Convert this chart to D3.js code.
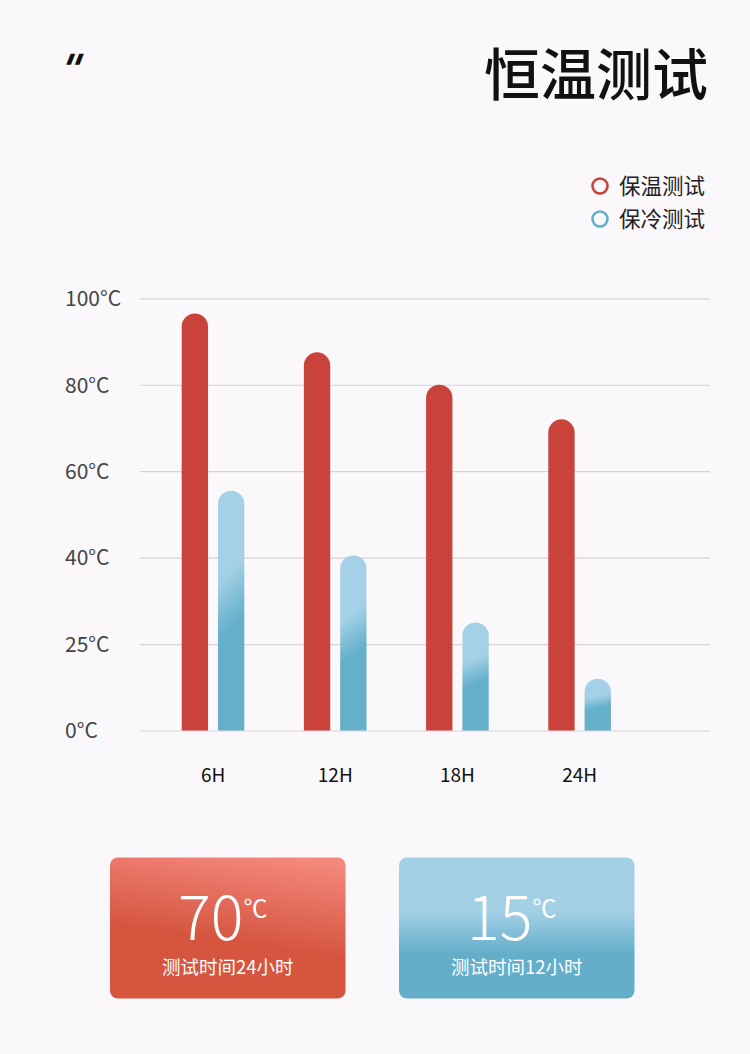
<!DOCTYPE html>
<html>
<head>
<meta charset="utf-8">
<script src="https://cdn.jsdelivr.net/npm/d3@7"></script>
<style>
  body { margin: 0; background: #faf8fa; }
  svg { display: block; }
  text { font-family: "Noto Sans CJK SC", "Noto Sans", sans-serif; }
</style>
</head>
<body>
<script>
// data
var hours = ["6H", "12H", "18H", "24H"];
var seriesKeys = ["warm", "cold"];
var seriesNames = ["保温测试", "保冷测试"];
var warmVals = [96.5, 87.5, 80, 72];
var coldVals = [55.5, 40.5, 25, 12];
var yTicks = [0, 20, 40, 60, 80, 100];
var yTickLabels = ["0°C", "25°C", "40°C", "60°C", "80°C", "100°C"];
var cardTemps = ["70", "15"];
var cardNotes = ["测试时间24小时", "测试时间12小时"];

var W = 750, H = 1054;
var red = "#c9433a", blue = "#63afca";

var svg = d3.select("body").append("svg")
    .attr("width", W)
    .attr("height", H);

svg.append("rect").attr("width", W).attr("height", H).attr("fill", "#faf8fa");

var defs = svg.append("defs");

var gBlue = defs.append("linearGradient").attr("id", "barBlue")
    .attr("x1", 0).attr("y1", 0.38).attr("x2", 0.025).attr("y2", 0.62);
gBlue.append("stop").attr("offset", 0).attr("stop-color", "#a4d1e7");
gBlue.append("stop").attr("offset", 1).attr("stop-color", "#64afca");

var gCardR = defs.append("linearGradient").attr("id", "cardRed")
    .attr("x1", 0.75).attr("y1", 0).attr("x2", 0.6).attr("y2", 0.62);
gCardR.append("stop").attr("offset", 0).attr("stop-color", "#f5877c");
gCardR.append("stop").attr("offset", 1).attr("stop-color", "#d5553f");

var gCardB = defs.append("linearGradient").attr("id", "cardBlue")
    .attr("x1", 0).attr("y1", 0.38).attr("x2", 0).attr("y2", 0.68);
gCardB.append("stop").attr("offset", 0).attr("stop-color", "#a4d0e6");
gCardB.append("stop").attr("offset", 1).attr("stop-color", "#64aec9");

// header
svg.append("text").text('"')
    .attr("transform", "translate(55,83) skewX(-22)")
    .attr("font-size", 40).attr("font-weight", "bold")
    .attr("fill", "#111")
    .style("font-family", "'DejaVu Sans', sans-serif");

svg.append("text").text("恒温测试")
    .attr("x", 708).attr("y", 95)
    .attr("text-anchor", "end")
    .attr("font-size", 56).attr("font-weight", 500)
    .attr("fill", "#111");

// legend
var leg = svg.append("g");
seriesNames.forEach(function(n, i){
    var gy = 186 + i * 33;
    leg.append("circle").attr("cx", 600).attr("cy", gy).attr("r", 7.5)
        .attr("fill", "none").attr("stroke", i == 0 ? red : blue).attr("stroke-width", 2.6);
    leg.append("text").text(n).attr("x", 619).attr("y", gy).attr("dy", "0.36em")
        .attr("font-size", 21.5).attr("fill", "#222");
});

// scales
var y = d3.scaleLinear().domain([0, 100]).range([730.5, 298.3]);
var x0 = d3.scaleBand().domain(hours).range([152, 152 + 4 * 122.2]);
var x1 = d3.scaleBand().domain(seriesKeys).range([29.7, 92.3]).paddingInner(0.275);

// grid + y labels
var yAxis = d3.axisLeft(y).tickValues(yTicks)
    .tickSize(-570)
    .tickFormat(function(d, i){ return yTickLabels[i]; });

var ga = svg.append("g").attr("transform", "translate(140,0)").call(yAxis);
ga.select(".domain").remove();
ga.selectAll(".tick line").attr("stroke", "#d6d2d6").attr("stroke-width", 1.2);
ga.selectAll(".tick text")
    .attr("x", -75).attr("text-anchor", "start").attr("dy", "0.35em")
    .attr("font-size", 21).attr("fill", "#444")
    .style("font-family", "'Noto Sans CJK SC', sans-serif");

// bars
function capBar(x, w, yTop, yBase){
    var r = w / 2;
    return "M" + x + "," + yBase + "V" + (yTop + r) +
        "A" + r + "," + r + " 0 0 1 " + (x + w) + "," + (yTop + r) +
        "V" + yBase + "Z";
}

var rows = hours.map(function(h, i){
    return {h: h, warm: warmVals[i], cold: coldVals[i]};
});

var grp = svg.append("g").selectAll("g").data(rows).enter().append("g")
    .attr("transform", function(d){ return "translate(" + x0(d.h) + ",0)"; });

grp.selectAll("path").data(function(d){
        return seriesKeys.map(function(k){ return {k: k, v: d[k]}; });
    }).enter().append("path")
    .attr("d", function(d){ return capBar(x1(d.k), x1.bandwidth(), y(d.v), y(0)); })
    .attr("fill", function(d){ return d.k == "warm" ? red : "url(#barBlue)"; });

// x labels
svg.append("g").selectAll("text").data(hours).enter().append("text")
    .text(function(d){ return d; })
    .attr("x", function(d){ return x0(d) + x0.bandwidth() / 2; })
    .attr("y", 775).attr("dy", "0.35em")
    .attr("text-anchor", "middle")
    .attr("font-size", 19).attr("fill", "#111");

// cards
var cardX = [110, 399];
cardTemps.forEach(function(t, i){
    var cx = cardX[i], cw = 235.5, cy = 857.5, ch = 141;
    var c = svg.append("g");
    c.append("rect").attr("x", cx).attr("y", cy).attr("width", cw).attr("height", ch)
        .attr("rx", 8).attr("fill", i == 0 ? "url(#cardRed)" : "url(#cardBlue)");
    var mid = cx + cw / 2;
    var big = c.append("text").attr("x", mid - 5).attr("y", 940)
        .attr("text-anchor", "middle").attr("fill", "#fff");
    big.append("tspan").text(t).attr("font-size", 61).attr("font-weight", 300);
    big.append("tspan").text("℃").attr("font-size", 24).attr("dy", -23);
    c.append("text").text(cardNotes[i]).attr("x", mid).attr("y", 968).attr("dy", "0.35em")
        .attr("text-anchor", "middle").attr("font-size", 18.5).attr("fill", "#fff");
});
</script>
</body>
</html>
